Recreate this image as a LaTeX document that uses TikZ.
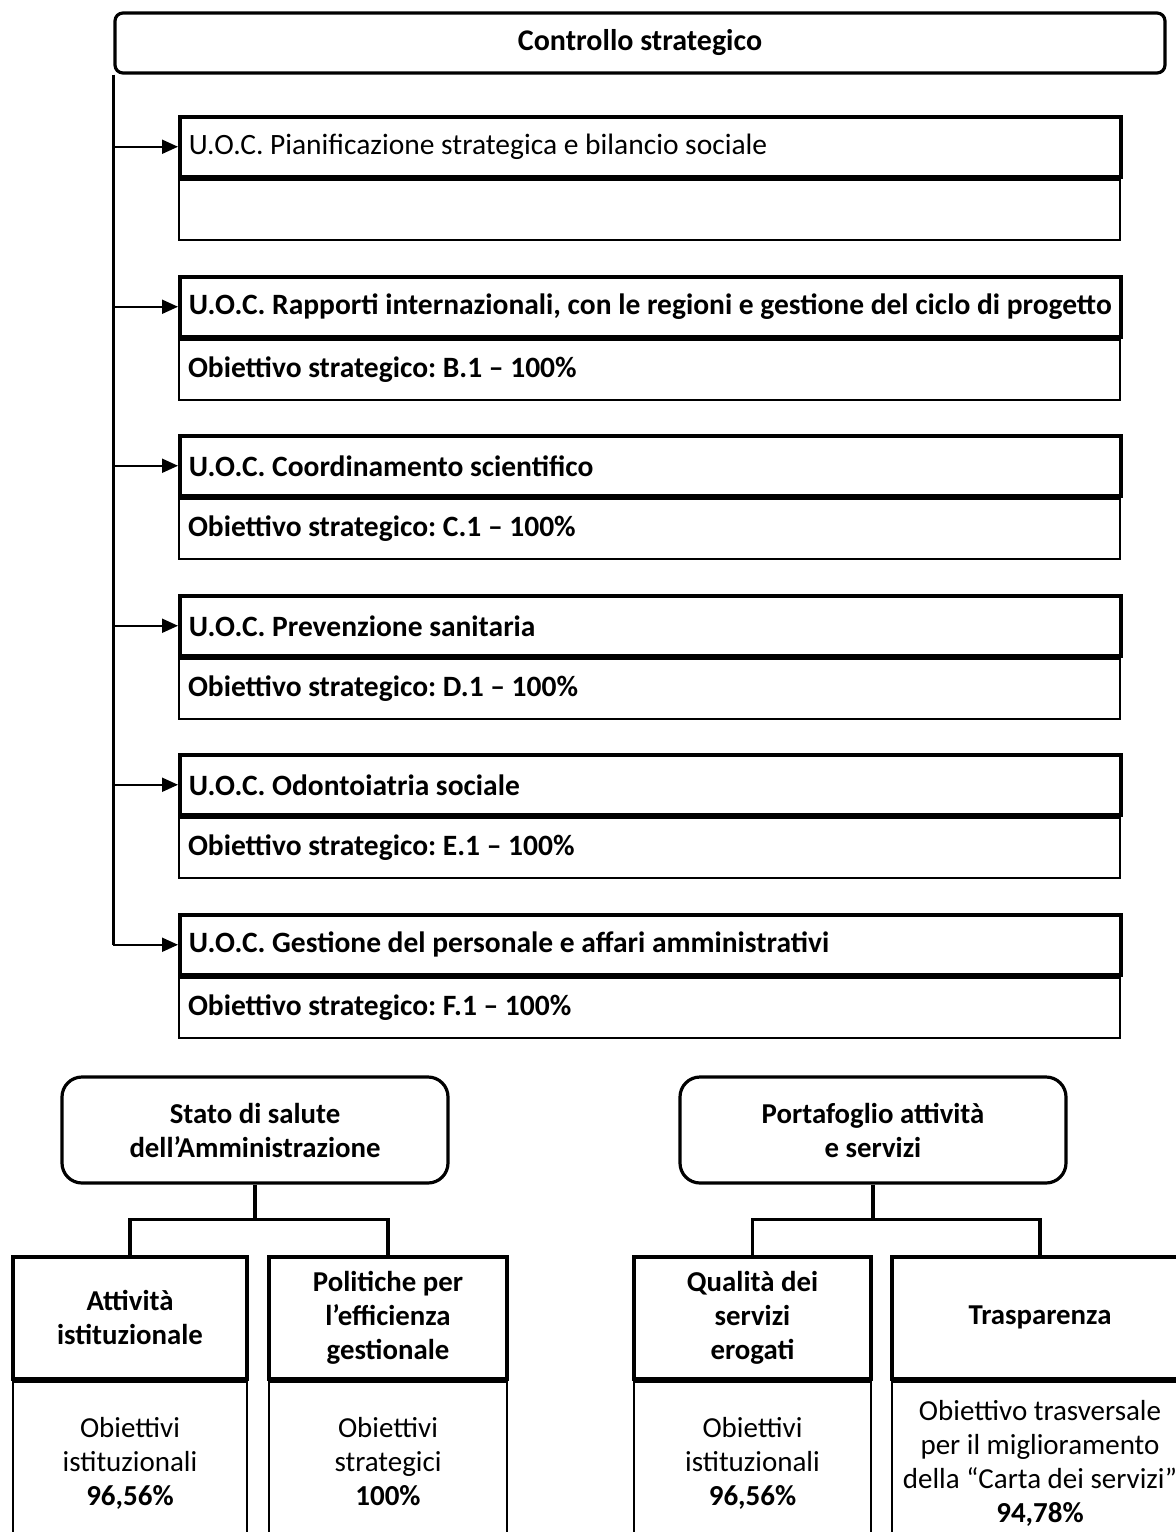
\documentclass[tikz,border=0pt]{standalone}
\usepackage{fontspec}
\setmainfont{Carlito}
\frenchspacing
\usetikzlibrary{arrows.meta,positioning}

\begin{document}
\begin{tikzpicture}[x=0.5pt,y=-0.5pt,
  font=\fontsize{14.75}{17.5}\selectfont,
  topbox/.style={draw,line width=1.6pt,rounded corners=4pt,minimum width=525pt,
    minimum height=30pt,font=\fontsize{15}{17.5}\selectfont\bfseries},
  head/.style={draw,line width=1.75pt,minimum width=470.5pt,minimum height=30pt,
    text width=461.5pt,inner xsep=4.5pt,align=flush left,anchor=north west},
  body/.style={head,line width=1pt},
  trunk/.style={line width=1.3pt},
  branch/.style={line width=1pt,-{Triangle[length=8pt,width=7pt]}},
  group/.style={draw,line width=1.6pt,rounded corners=10pt,minimum width=193pt,
    minimum height=53pt,align=center,font=\fontsize{14.4}{17}\selectfont\bfseries},
  cathead/.style={draw,line width=1.75pt,minimum height=61pt,align=center,anchor=north,
    font=\fontsize{14.4}{17}\selectfont\bfseries},
  catbody/.style={draw,line width=1pt,minimum height=81.5pt,align=center,anchor=north,
    font=\fontsize{14.5}{17}\selectfont},
  link/.style={line width=1.6pt}]
\useasboundingbox (0,0) rectangle (1176,1532);

% controllo strategico
\node[topbox] (CS) at (640,43) {Controllo strategico};

\node[head] (U1) at (178,115) {U.O.C. Pianificazione strategica e bilancio sociale};
\node[body] (O1) at (U1.south west) {};
\node[head,font=\fontsize{14.75}{17.5}\selectfont\bfseries] (U2) at (178,275)
  {U.O.C. Rapporti internazionali, con le regioni e gestione del ciclo di progetto};
\node[body,font=\fontsize{14.75}{17.5}\selectfont\bfseries] (O2) at (U2.south west)
  {Obiettivo strategico: B.1 -- 100\%};
\node[head,font=\fontsize{14.75}{17.5}\selectfont\bfseries] (U3) at (178,434)
  {U.O.C. Coordinamento scientifico};
\node[body,font=\fontsize{14.75}{17.5}\selectfont\bfseries] (O3) at (U3.south west)
  {Obiettivo strategico: C.1 -- 100\%};
\node[head,font=\fontsize{14.75}{17.5}\selectfont\bfseries] (U4) at (178,594)
  {U.O.C. Prevenzione sanitaria};
\node[body,font=\fontsize{14.75}{17.5}\selectfont\bfseries] (O4) at (U4.south west)
  {Obiettivo strategico: D.1 -- 100\%};
\node[head,font=\fontsize{14.75}{17.5}\selectfont\bfseries] (U5) at (178,753)
  {U.O.C. Odontoiatria sociale};
\node[body,font=\fontsize{14.75}{17.5}\selectfont\bfseries] (O5) at (U5.south west)
  {Obiettivo strategico: E.1 -- 100\%};
\node[head,font=\fontsize{14.75}{17.5}\selectfont\bfseries] (U6) at (178,913)
  {U.O.C. Gestione del personale e affari amministrativi};
\node[body,font=\fontsize{14.75}{17.5}\selectfont\bfseries] (O6) at (U6.south west)
  {Obiettivo strategico: F.1 -- 100\%};

\draw[trunk] (CS.south west) -- (CS.south west |- U6.west);
\foreach \u in {U1,U2,U3,U4,U5,U6}
  \draw[branch] (CS.south west |- \u.west) -- (\u.west);

% stato di salute
\node[group] (SS) at (255,1130) {Stato di salute\\dell’Amministrazione};
\node[cathead,minimum width=117pt] (AI) at (130,1255) {Attività\\istituzionale};
\node[catbody,minimum width=117pt] (OI) at (AI.south) {Obiettivi\\istituzionali\\\textbf{96,56\%}};
\node[cathead,minimum width=119pt] (PE) at (388,1255) {Politiche per\\l’efficienza\\gestionale};
\node[catbody,minimum width=119pt] (OS) at (PE.south) {Obiettivi\\strategici\\\textbf{100\%\vphantom{,}}};

\draw[link] (SS.south) -- ++(0,35) coordinate (SSj);
\draw[link] (AI.north) |- (SSj) -| (PE.north);

% portafoglio
\node[group] (PF) at (873,1130) {Portafoglio attività\\e servizi};
\node[cathead,minimum width=118.5pt] (QS) at (752.5,1255) {Qualità dei\\servizi\\erogati};
\node[catbody,minimum width=118.5pt] (OQ) at (QS.south) {Obiettivi\\istituzionali\\\textbf{96,56\%}};
\node[cathead,minimum width=148pt] (TR) at (1040,1255) {Trasparenza};
\node[catbody,minimum width=148pt] (OT) at (TR.south)
  {Obiettivo trasversale\\per il miglioramento\\della “Carta dei servizi”\\\textbf{94,78\%}};

\draw[link] (PF.south) -- ++(0,35) coordinate (PFj);
\draw[link] (QS.north) |- (PFj) -| (TR.north);
\end{tikzpicture}
\end{document}
